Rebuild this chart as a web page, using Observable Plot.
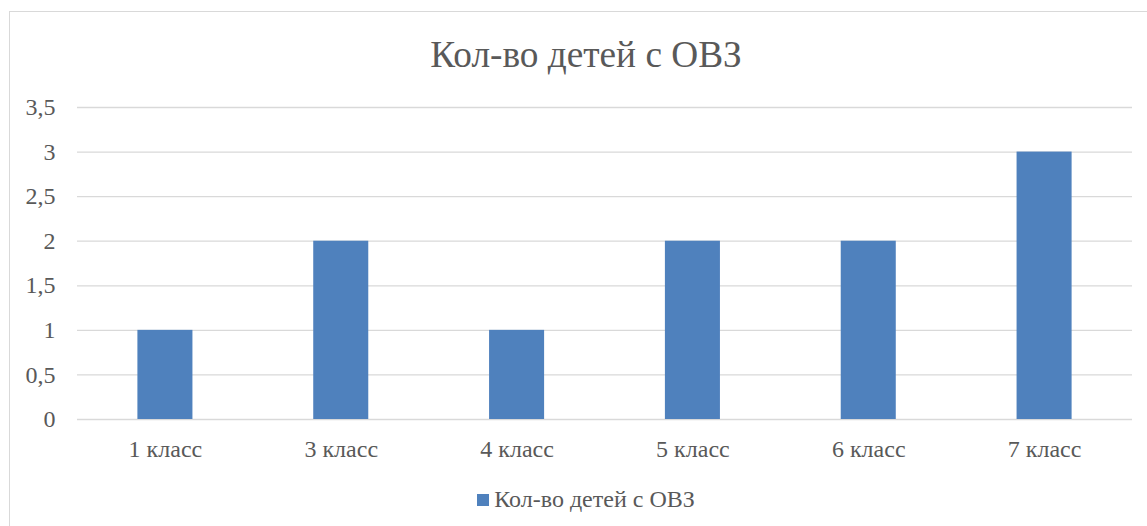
<!DOCTYPE html>
<html>
<head>
<meta charset="utf-8">
<script src="https://cdn.jsdelivr.net/npm/d3@7"></script>
<script src="https://cdn.jsdelivr.net/npm/@observablehq/plot@0.6"></script>
<style>
  html, body { margin: 0; padding: 0; background: #fff; overflow: hidden; }
  #wrap { position: relative; width: 1147px; height: 526px; color: #595959; }
  #wrap, #wrap div, #wrap svg, #wrap text, #wrap g { font-family: "Liberation Serif", serif !important; }
  #frame { position: absolute; left: 9px; top: 11px; width: 1160px; height: 540px; border: 1px solid #d9d9d9; box-sizing: border-box; }
  #title { position: absolute; left: 9px; width: 1154px; top: 31px; text-align: center; font-size: 37.3px; line-height: 48px; }
  #chart { position: absolute; left: 0; top: 0; }
  #legend { position: absolute; left: 0; width: 1172px; top: 486px; text-align: center; font-size: 24px; line-height: 26px; }
  #legend .sw { display: inline-block; width: 12px; height: 12px; background: #4f81bd; margin-right: 5px; vertical-align: 1px; }
</style>
</head>
<body>
<div id="wrap">
  <div id="frame"></div>
  <div id="chart"></div>
  <div id="title">Кол-во детей с ОВЗ</div>
  <div id="legend"><span class="sw"></span>Кол-во детей с ОВЗ</div>
</div>
<script>
const categories = ["1 класс", "3 класс", "4 класс", "5 класс", "6 класс", "7 класс"];
const values = [1, 2, 1, 2, 2, 3];
const yTicks = [0, 0.5, 1, 1.5, 2, 2.5, 3, 3.5];
const seriesName = "Кол-во детей с ОВЗ";

const data = categories.map((c, i) => ({category: c, value: values[i]}));
const fmt = d => String(d).replace(".", ",");
const serif = '"Liberation Serif", serif';

const chart = Plot.plot({
  width: 1147,
  height: 470,
  marginLeft: 77,
  marginRight: 15,
  marginTop: 107,
  marginBottom: 51,
  style: {fontFamily: serif, fontSize: "24px", color: "#595959", background: "transparent"},
  x: {domain: categories, paddingInner: 0.687, paddingOuter: 0.3435, round: false, label: null},
  y: {domain: [0, 3.5], label: null},
  marks: [
    Plot.ruleY(yTicks, {stroke: "#d9d9d9", strokeWidth: 1.3}),
    Plot.barY(data, {x: "category", y: "value", fill: "#4f81bd"}),
    Plot.axisX({tickSize: 0, tickPadding: 20, fontSize: 24, fill: "#595959", fontFamily: serif}),
    Plot.axisY({ticks: yTicks, tickFormat: fmt, tickSize: 0, tickPadding: 22, fontSize: 24, fill: "#595959", fontFamily: serif})
  ]
});
document.getElementById("chart").appendChild(chart);
</script>
</body>
</html>
